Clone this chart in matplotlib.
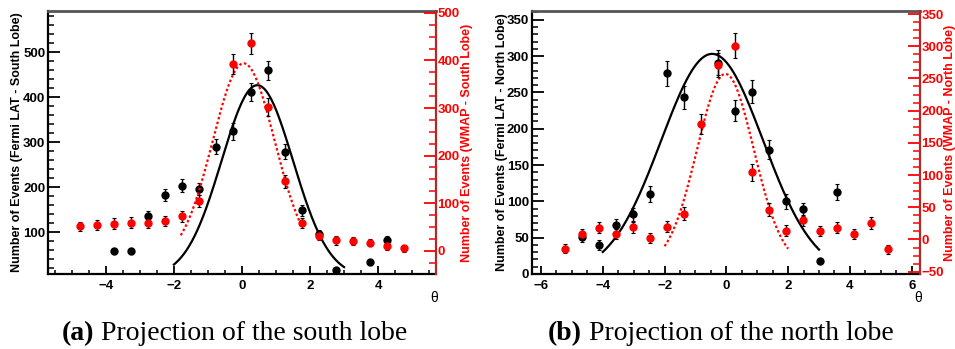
import numpy as np
import matplotlib.pyplot as plt
from matplotlib.ticker import MultipleLocator

plt.rcParams['font.family'] = ['Liberation Sans', 'DejaVu Sans']

# ---- south lobe ----
s_lat_x = [-3.75, -3.25, -2.75, -2.25, -1.75, -1.25, -0.75, -0.25, 0.25, 0.75,
           1.25, 1.75, 2.25, 2.75, 3.75, 4.25]
s_lat_y = [58, 58, 136, 183, 203, 196, 290, 324, 411, 460, 279, 149, 96, 15, 33, 83]
s_lat_err = [7.6, 7.6, 11.7, 13.5, 14.2, 14, 17, 18, 20.3, 21.4, 16.7, 12.2, 9.8, 3.9, 5.7, 9.1]

s_wmap_x = [-4.75, -4.25, -3.75, -3.25, -2.75, -2.25, -1.75, -1.25, -0.25, 0.25,
            0.75, 1.25, 1.75, 2.25, 2.75, 3.25, 3.75, 4.25, 4.75]
s_wmap_y = [51, 54, 57, 59, 59, 62, 72, 104, 392, 436, 303, 146, 58, 31, 22, 20, 17, 10, 5]
s_wmap_err = [10, 10, 11, 11, 11, 11, 11, 13, 21, 22, 19, 14, 10, 9, 9, 8, 8, 8, 8]

# gaussian fits: (amplitude, mean, sigma, constant, xmin, xmax)
s_lat_fit = (427, 0.45, 1.05, 0, -2.0, 3.0)
s_wmap_fit = (414, 0.05, 0.91, -20, -1.8, 1.75)

# ---- north lobe ----
n_lat_x = [-4.675, -4.125, -3.575, -3.025, -2.475, -1.925, -1.375, -0.275, 0.275,
           0.825, 1.375, 1.925, 2.475, 3.025, 3.575]
n_lat_y = [50.5, 40, 67, 82, 110, 276, 243, 291, 225, 251, 171, 100, 89, 18, 113]
n_lat_err = [7.1, 6.3, 8.2, 9.1, 10.5, 16.6, 15.6, 17.1, 15, 15.8, 13.1, 10, 9.4, 4.2, 10.6]

n_wmap_x = [-5.225, -4.675, -4.125, -3.575, -3.025, -2.475, -1.925, -1.375, -0.825,
            -0.275, 0.275, 0.825, 1.375, 1.925, 2.475, 3.025, 3.575, 4.125, 4.675, 5.225]
n_wmap_y = [-14.5, 8, 18, 8, 19, 2.5, 19.5, 40, 179, 271, 301, 104, 46, 13.5, 29.5,
            13, 18, 8, 26, -15]
n_wmap_err = [7, 7.9, 8.5, 7.9, 8.6, 7.6, 8.6, 9.7, 15.3, 18, 19.5, 12.6, 10, 8.3, 9.2,
              8.2, 8.5, 7.9, 9, 7]

n_lat_fit = (303, -0.46, 1.65, 0, -4.0, 3.0)
n_wmap_fit = (297, -0.03, 0.917, -40, -2.0, 2.0)


def gauss_curve(p):
    a, mu, sig, c, x0, x1 = p
    x = np.linspace(x0, x1, 200)
    return x, a * np.exp(-(x - mu) ** 2 / (2 * sig ** 2)) + c


def panel(rect, xlim, ylim, ylim2, lat, wmap, fits, ylabel, ylabel2,
          ymaj, ymin, y2maj, y2min, label_x, label2_x):
    ax = fig.add_axes(rect)
    ax2 = ax.twinx()

    x, y = gauss_curve(fits[0])
    ax.plot(x, y, color='black', lw=1.6, zorder=2)
    ax.errorbar(lat[0], lat[1], yerr=lat[2], fmt='o', color='black', ms=5,
                ecolor='black', elinewidth=1, capsize=1.5, capthick=0.8, zorder=3)

    x, y = gauss_curve(fits[1])
    ax2.plot(x, y, color='red', lw=1.6, ls=(0, (1.1, 1.1)), zorder=2)
    ax2.errorbar(wmap[0], wmap[1], yerr=wmap[2], fmt='o', color='red', ms=5,
                 ecolor='black', elinewidth=1, capsize=1.5, capthick=0.8, zorder=3)

    ax.set_xlim(*xlim)
    ax.set_ylim(*ylim)
    ax2.set_ylim(*ylim2)

    ax.xaxis.set_major_locator(MultipleLocator(2))
    ax.xaxis.set_minor_locator(MultipleLocator(0.5))
    ax.yaxis.set_major_locator(MultipleLocator(ymaj))
    ax.yaxis.set_minor_locator(MultipleLocator(ymin))
    ax2.yaxis.set_major_locator(MultipleLocator(y2maj))
    ax2.yaxis.set_minor_locator(MultipleLocator(y2min))

    ax.tick_params(axis='both', which='both', direction='in', top=False, right=False,
                   labelsize=9.5, pad=2)
    ax.tick_params(axis='y', which='major', length=8.5, width=1.3)
    ax.tick_params(axis='y', which='minor', length=4, width=1.1)
    ax.tick_params(axis='x', which='major', length=5.5, width=1.3, pad=4)
    ax.tick_params(axis='x', which='minor', length=2.8, width=1.1)
    ax2.tick_params(axis='y', which='both', direction='in', colors='red',
                    labelsize=9.5, pad=1)
    ax2.tick_params(axis='y', which='major', length=8.5, width=1.3)
    ax2.tick_params(axis='y', which='minor', length=5, width=1.1)
    for t in ax.get_xticklabels() + ax.get_yticklabels() + ax2.get_yticklabels():
        t.set_fontweight('bold')

    for s in ('left', 'bottom'):
        ax.spines[s].set_linewidth(1.6)
    ax.spines['top'].set_color('#555555')
    ax.spines['top'].set_linewidth(2)
    ax.spines['right'].set_visible(False)
    for s in ('left', 'bottom', 'top'):
        ax2.spines[s].set_visible(False)
    ax2.spines['right'].set_color('#b02a2a')
    ax2.spines['right'].set_linewidth(1.6)

    ymid = rect[1] + rect[3] / 2
    fig.text(label_x, ymid, ylabel, rotation=90, fontsize=9, fontweight='bold',
             ha='center', va='center')
    fig.text(label2_x, ymid, ylabel2, rotation=90, color='red',
             fontsize=9, fontweight='bold', ha='center', va='center')
    fig.text(rect[0] + rect[2] - 0.002, 0.146, 'θ', fontsize=10, ha='center', va='center')
    return ax


fig = plt.figure(figsize=(9.55, 3.49), dpi=100)

panel([0.0503, 0.2149, 0.4062, 0.7536], (-5.7, 5.7), (7, 592), (-49, 504),
      (s_lat_x, s_lat_y, s_lat_err), (s_wmap_x, s_wmap_y, s_wmap_err),
      (s_lat_fit, s_wmap_fit),
      'Number of Events (Fermi LAT - South Lobe)',
      'Number of Events (WMAP - South Lobe)', 100, 20, 100, 25, 0.0178, 0.489)

panel([0.5568, 0.2149, 0.4066, 0.7536], (-6.3, 6.27), (0, 362), (-53.6, 354.7),
      (n_lat_x, n_lat_y, n_lat_err), (n_wmap_x, n_wmap_y, n_wmap_err),
      (n_lat_fit, n_wmap_fit),
      'Number of Events (Fermi LAT - North Lobe)',
      'Number of Events (WMAP - North Lobe)', 50, 10, 50, 12.5, 0.5255, 0.995)

# subfigure captions
fig.canvas.draw()
for x0, tag, text in [(61.7, '(a)', ' Projection of the south lobe'),
                      (548, '(b)', ' Projection of the north lobe')]:
    t = fig.text(x0 / 955, 9 / 349, tag, fontsize=20, fontweight='bold',
                 family='Liberation Serif', va='baseline')
    bb = t.get_window_extent(fig.canvas.get_renderer())
    fig.text(bb.x1 / 955, 9 / 349, text, fontsize=20, family='Liberation Serif',
             va='baseline')

fig.savefig('out.png', dpi=100)
